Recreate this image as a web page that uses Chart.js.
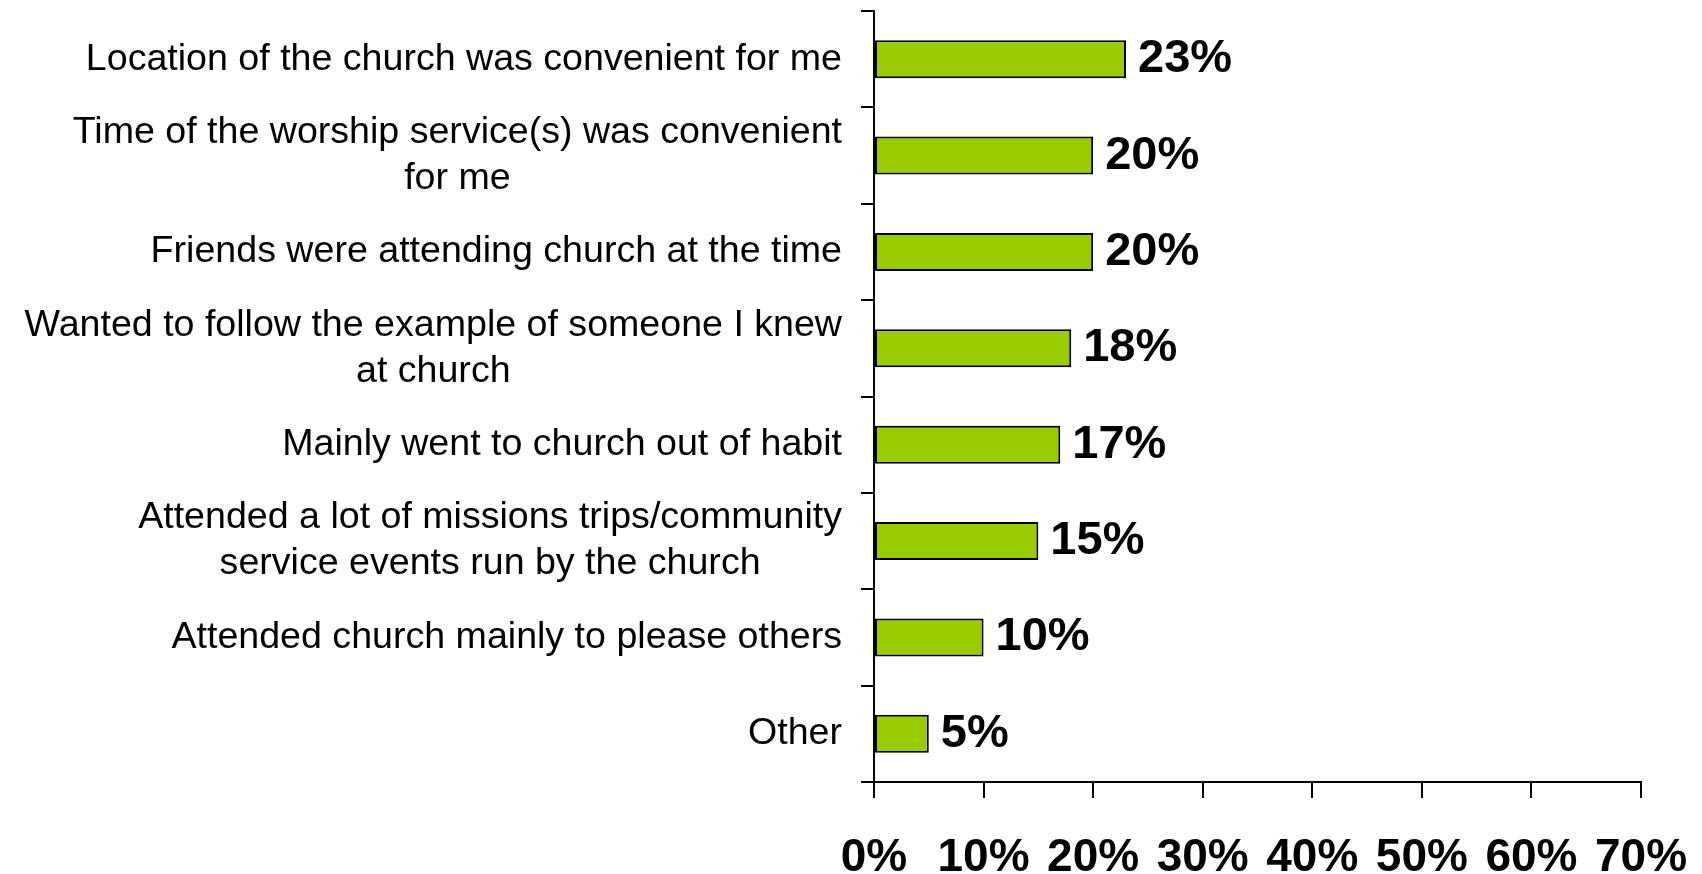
<!DOCTYPE html>
<html>
<head>
<meta charset="utf-8">
<script src="https://cdn.jsdelivr.net/npm/chart.js@4.4.0/dist/chart.umd.min.js"></script>
<style>
  body { margin: 0; background: #fff; }
  #wrap { width: 1702px; height: 874px; position: relative; }
</style>
</head>
<body>
<div id="wrap"><canvas id="reasons"></canvas></div>
<script>
// reasons for attending church
const categories = [
  'Location of the church was convenient for me',
  ['Time of the worship service(s) was convenient', 'for me'],
  'Friends were attending church at the time',
  ['Wanted to follow the example of someone I knew', 'at church'],
  'Mainly went to church out of habit',
  ['Attended a lot of missions trips/community', 'service events run by the church'],
  'Attended church mainly to please others',
  'Other'
];
const percents = [23, 20, 20, 18, 17, 15, 10, 5];
const xTicks = [0, 10, 20, 30, 40, 50, 60, 70];

const FONT = '"Liberation Sans", Arial, sans-serif';

// value labels at the end of each bar
const valueLabels = {
  id: 'valueLabels',
  afterDatasetsDraw(chart) {
    const ctx = chart.ctx;
    const meta = chart.getDatasetMeta(0);
    ctx.save();
    ctx.font = 'bold 47px ' + FONT;
    ctx.fillStyle = '#000';
    ctx.textAlign = 'left';
    ctx.textBaseline = 'middle';
    meta.data.forEach(function (bar, i) {
      ctx.fillText(percents[i] + '%', bar.x + 12, bar.y);
    });
    ctx.restore();
  }
};

// category labels, lines centred on each other, block right-aligned
const categoryLabels = {
  id: 'categoryLabels',
  afterDraw(chart) {
    const ctx = chart.ctx;
    const yScale = chart.scales.y;
    const right = yScale.right - 32;
    const lineH = 46;
    ctx.save();
    ctx.font = '37.6px ' + FONT;
    ctx.fillStyle = '#000';
    ctx.textAlign = 'center';
    ctx.textBaseline = 'middle';
    categories.forEach(function (label, i) {
      const lines = Array.isArray(label) ? label : [label];
      const widest = Math.max.apply(null, lines.map(l => ctx.measureText(l).width));
      const cx = right - widest / 2;
      const cy = yScale.getPixelForTick(i);
      lines.forEach(function (line, j) {
        ctx.fillText(line, cx, cy + (j - (lines.length - 1) / 2) * lineH);
      });
    });
    ctx.restore();
  }
};

new Chart(document.getElementById('reasons'), {
  type: 'bar',
  data: {
    labels: categories,
    datasets: [{
      data: percents,
      backgroundColor: '#99cc00',
      borderColor: '#000',
      borderWidth: 2,
      borderSkipped: false,
      barPercentage: 0.395,
      categoryPercentage: 1
    }]
  },
  options: {
    indexAxis: 'y',
    responsive: true,
    maintainAspectRatio: false,
    animation: false,
    layout: { padding: { top: 11, right: 61, left: 0, bottom: 0 } },
    plugins: {
      legend: { display: false },
      tooltip: { enabled: false }
    },
    scales: {
      x: {
        min: 0,
        max: 70,
        afterBuildTicks: function (scale) {
          scale.ticks = xTicks.map(v => ({ value: v }));
        },
        afterFit: function (scale) {
          scale.height = 92;
          scale.paddingLeft = 0;
          scale.paddingRight = 0;
        },
        border: { color: '#000', width: 2 },
        grid: {
          drawOnChartArea: false,
          drawTicks: true,
          tickLength: 16,
          color: '#000',
          lineWidth: 2
        },
        ticks: {
          callback: v => v + '%',
          color: '#000',
          padding: 33,
          maxRotation: 0,
          autoSkip: false,
          font: { family: FONT, size: 46, weight: 'bold' }
        }
      },
      y: {
        afterFit: function (scale) { scale.width = 874; },
        border: { color: '#000', width: 2 },
        grid: {
          offset: true,
          drawOnChartArea: false,
          drawTicks: true,
          tickLength: 13,
          color: '#000',
          lineWidth: 2
        },
        ticks: { display: false }
      }
    }
  },
  plugins: [valueLabels, categoryLabels]
});
</script>
</body>
</html>
